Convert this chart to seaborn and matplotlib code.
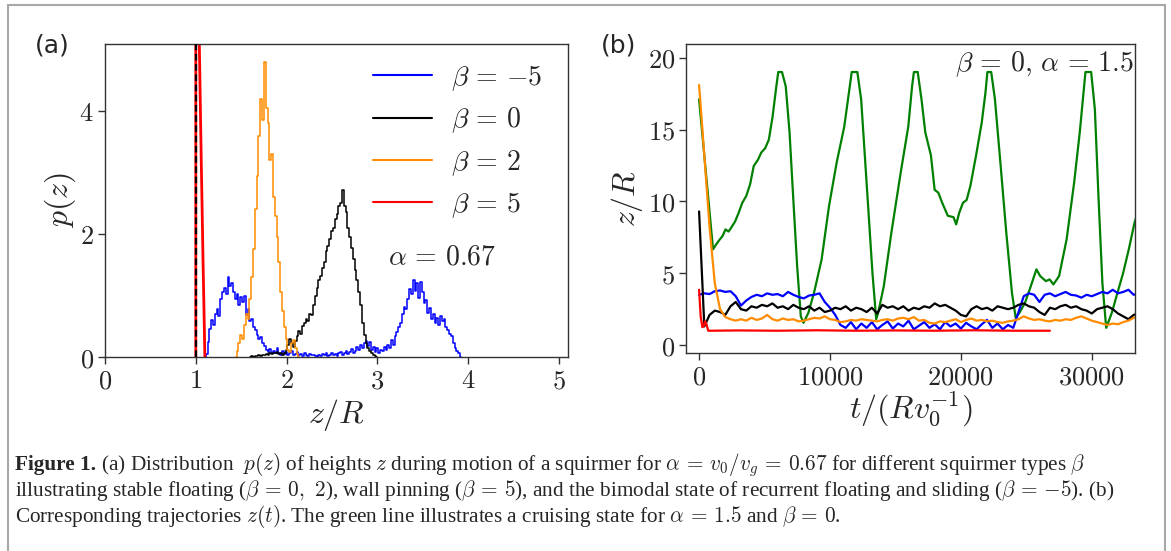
import numpy as np
import matplotlib
matplotlib.use("Agg")
import matplotlib.pyplot as plt
import seaborn as sns
from matplotlib.patches import Rectangle

# ---------------- panel (a): height distributions p(z), alpha = 0.67 ----------------
z_bin = 0.02

# beta = -5 : bimodal (sliding + floating)
blue_z0 = 1.10
blue_p = [0.00, 0.05, 0.25, 0.45, 0.60, 0.52, 0.70, 0.78, 0.66, 0.95,
          1.05, 1.12, 1.02, 1.30, 1.15, 1.20, 1.05, 0.95, 1.02, 0.85,
          0.98, 0.90, 1.00, 0.68, 0.78, 0.58, 0.62, 0.48, 0.44, 0.36,
          0.30, 0.33, 0.22, 0.18, 0.12, 0.08, 0.13, 0.06, 0.10, 0.07,
          0.15, 0.06, 0.04, 0.09, 0.05, 0.08, 0.03, 0.06, 0.10, 0.04,
          0.05, 0.08, 0.03, 0.05, 0.02, 0.06, 0.04, 0.01, 0.05, 0.03,
          0.04, 0.02, 0.00, 0.04, 0.02, 0.05, 0.03, 0.06, 0.02, 0.04,
          0.07, 0.03, 0.05, 0.02, 0.06, 0.08, 0.04, 0.07, 0.10, 0.05,
          0.08, 0.13, 0.07, 0.10, 0.16, 0.12, 0.20, 0.15, 0.22, 0.26,
          0.18, 0.24, 0.12, 0.17, 0.08, 0.14, 0.07, 0.12, 0.09, 0.16,
          0.11, 0.19, 0.14, 0.28, 0.20, 0.34, 0.40, 0.48, 0.56, 0.70,
          0.82, 0.78, 0.95, 1.10, 1.02, 1.26, 1.08, 1.20, 0.96, 1.22,
          1.05, 0.88, 0.92, 0.72, 0.80, 0.62, 0.70, 0.56, 0.64, 0.52,
          0.66, 0.58, 0.62, 0.48, 0.44, 0.38, 0.34, 0.22, 0.15, 0.10,
          0.06, 0.00]

# beta = 0 : stable floating
black_z0 = 1.60
black_p = [0.00, 0.01, 0.00, 0.02, 0.01, 0.03, 0.02, 0.04, 0.03, 0.05,
           0.04, 0.06, 0.05, 0.07, 0.06, 0.08, 0.05, 0.07, 0.04, 0.06,
           0.12, 0.20, 0.30, 0.22, 0.16, 0.26, 0.34, 0.42, 0.38, 0.50,
           0.55, 0.62, 0.58, 0.70, 0.68, 0.85, 1.00, 1.12, 1.25, 1.32,
           1.45, 1.55, 1.72, 1.80, 1.92, 2.05, 2.10, 2.25, 2.32, 2.45,
           2.50, 2.72, 2.45, 2.35, 2.10, 1.95, 1.78, 1.60, 1.42, 1.25,
           1.05, 0.85, 0.55, 0.35, 0.22, 0.15, 0.10, 0.06, 0.03, 0.01,
           0.00]

# beta = 2 : stable floating
orange_z0 = 1.44
orange_p = [0.00, 0.10, 0.22, 0.35, 0.30, 0.52, 0.70, 0.62, 0.95, 1.30,
            1.75, 2.40, 2.95, 3.60, 4.20, 3.85, 4.80, 4.05, 3.80, 3.20,
            3.30, 2.60, 2.30, 1.95, 1.55, 1.05, 0.75, 0.48, 0.30, 0.12,
            0.08, 0.22, 0.28, 0.15, 0.05, 0.00]

# beta = 5 : wall pinning
red_z = [1.00, 1.00, 1.01, 1.02, 1.03, 1.04, 1.05, 1.06, 1.07, 1.08, 1.09, 1.10]
red_p = [0.00, 60.0, 30.0, 12.0, 6.20, 5.00, 4.10, 3.20, 2.40, 1.55, 0.80, 0.00]

wall_z = 1.0
alpha_a_label = r"$\alpha \,=\, 0.67$"
legend_labels = [r"$\beta \,=\, {-}5$", r"$\beta \,=\, 0$", r"$\beta \,=\, 2$", r"$\beta \,=\, 5$"]
xticks_a = [0, 1, 2, 3, 4, 5]
yticks_a = [0, 2, 4]

# ---------------- panel (b): trajectories z(t) ----------------
t_grid = np.arange(0, 33601, 400)

black_traj = [9.3, 1.3, 2.1, 2.4, 2.3, 2.1, 2.7, 3.0, 2.5, 2.4,
              2.7, 2.6, 2.8, 2.7, 2.9, 2.6, 2.7, 2.5, 2.8, 2.6,
              2.5, 2.7, 2.4, 2.6, 2.3, 2.4, 2.6, 2.5, 2.7, 2.4,
              2.6, 2.5, 2.3, 2.6, 2.2, 2.8, 2.6, 2.7, 2.5, 2.7,
              2.4, 2.6, 2.5, 2.7, 2.6, 2.9, 2.7, 2.8, 2.6, 2.4,
              2.1, 2.0, 2.5, 2.7, 2.5, 2.6, 2.4, 2.7, 2.6, 2.5,
              2.6, 2.8, 2.9, 2.7, 2.6, 2.3, 2.1, 2.6, 2.5, 2.7,
              2.8, 2.6, 2.7, 2.5, 2.4, 2.2, 2.5, 2.6, 2.7, 2.5,
              2.2, 2.0, 1.8, 2.1, 2.2]

orange_traj = [18.1, 13.2, 8.2, 4.3, 2.5, 1.95, 1.8, 1.7, 1.8, 1.7,
               1.9, 1.75, 1.85, 2.1, 1.8, 1.7, 1.85, 1.75, 1.8, 1.65,
               1.7, 1.8, 1.9, 1.85, 2.0, 1.8, 1.75, 1.6, 1.65, 1.75,
               1.7, 1.8, 1.75, 1.7, 1.65, 1.75, 1.8, 1.7, 1.85, 1.9,
               1.8, 1.95, 1.7, 1.75, 1.55, 1.5, 1.65, 1.6, 1.7, 1.8,
               1.6, 1.75, 1.85, 1.7, 1.75, 1.65, 1.7, 1.6, 1.55, 1.65,
               1.7, 1.8, 2.0, 1.85, 1.75, 1.8, 1.7, 1.65, 1.75, 1.7,
               1.8, 1.75, 1.9, 2.0, 1.85, 1.7, 1.6, 1.5, 1.4, 1.5,
               1.45, 1.6, 1.7, 1.9, 1.95]

blue_traj = [3.5, 3.6, 3.55, 3.75, 3.8, 3.7, 3.75, 3.4, 2.75, 3.1,
             3.35, 3.5, 3.4, 3.6, 3.5, 3.55, 3.4, 3.7, 3.5, 3.35,
             3.25, 3.45, 3.5, 3.6, 3.0, 2.6, 2.1, 1.4, 1.2, 1.6,
             1.1, 1.5, 1.2, 1.6, 1.1, 1.4, 1.65, 1.15, 1.5, 1.3,
             1.7, 1.1, 1.35, 1.6, 1.2, 1.45, 1.1, 1.6, 1.3, 1.5,
             1.15, 1.55, 1.3, 1.1, 1.45, 1.75, 1.2, 1.5, 1.1, 1.4,
             1.2, 2.3, 3.4, 3.6, 3.5, 3.0, 3.5, 3.6, 3.4, 3.55,
             3.7, 3.5, 3.45, 3.3, 3.5, 3.4, 3.55, 3.7, 3.6, 3.85,
             3.6, 3.7, 3.85, 3.5, 3.6]

red_t = [0, 120, 250, 350, 450, 550, 700, 900, 3000, 6000, 9000, 12000,
         15000, 18000, 21000, 24000, 26800]
red_traj = [3.85, 2.0, 1.25, 1.3, 1.65, 1.5, 1.0, 1.0, 1.02, 1.0, 1.03, 1.0,
            1.02, 1.0, 1.03, 1.0, 1.0]

# cruising state, beta = 0, alpha = 1.5
green_t = [0, 1065, 1300, 1580, 1800, 2015, 2250, 2450, 2750, 3020, 3300, 3600,
           3900, 4175, 4500, 4750, 5050, 5330, 5615, 5900, 6050, 6335, 6620,
           6910, 7200, 7490, 7770, 7975, 8350, 8780, 9360, 9930, 10510, 11090,
           11375, 11660, 12090, 12380, 12810, 13245, 13530, 13680, 14110, 14685,
           15400, 15980, 16270, 16410, 16700, 16990, 17280, 17710, 17995, 18280,
           18570, 19000, 19435, 19640, 19870, 20155, 20440, 20730, 21160, 21595,
           21880, 22025, 22315, 22600, 23035, 23470, 23900, 24185, 24475, 24900,
           25340, 25770, 26060, 26490, 26780, 27065, 27500, 28075, 28650, 29080,
           29515, 29950, 30235, 30520, 30810, 31100, 31530, 31960, 32390, 32825,
           33260, 33500]
green_traj = [17.1, 6.66, 7.0, 7.35, 7.6, 8.05, 7.9, 8.17, 8.6, 9.2, 9.9, 10.37,
              11.2, 12.46, 12.9, 13.4, 13.7, 14.3, 15.9, 18.0, 19.0, 19.0, 18.0,
              14.8, 10.1, 5.5, 2.0, 1.55, 2.25, 3.64, 5.96, 9.7, 12.7, 15.2,
              17.1, 19.0, 19.0, 17.1, 11.1, 5.0, 1.8, 2.25, 4.1, 7.8,
              12.0, 15.2, 18.0, 19.0, 19.0, 17.1, 14.8, 13.2, 10.8, 10.6,
              9.9, 9.0, 8.9, 8.4, 9.2, 9.9, 10.1, 11.1, 13.2, 15.5,
              17.6, 19.0, 19.0, 17.1, 12.5, 7.8, 3.64, 1.9, 2.25, 2.95,
              4.1, 5.27, 4.8, 4.45, 4.57, 4.22, 4.8, 7.35, 11.3, 14.8,
              19.0, 19.0, 16.4, 10.1, 4.3, 1.2, 2.25, 3.64, 5.0, 6.66,
              8.5, 9.2]

label_b = r"$\beta\,=\,0,\,\alpha\,=\,1.5$"
xticks_b = [0, 10000, 20000, 30000]
yticks_b = [0, 5, 10, 15, 20]

c_blue, c_black, c_orange, c_red, c_green = "#0000ff", "#000000", "#ff8c00", "#ff0000", "#008000"

# ---------------- style ----------------
sns.set_style("ticks")
plt.rcParams["mathtext.fontset"] = "cm"
plt.rcParams["font.family"] = ["DejaVu Sans"]
plt.rcParams["axes.unicode_minus"] = True

W, H = 1171, 551
fig = plt.figure(figsize=(W / 100, H / 100), dpi=100)
fig.patch.set_facecolor("white")


def px_axes(left, top, right, bottom):
    return fig.add_axes([left / W, 1 - bottom / H, (right - left) / W, (bottom - top) / H])


def style_axes(ax):
    for s in ax.spines.values():
        s.set_color("#333333")
        s.set_linewidth(1.0)
    ax.tick_params(direction="out", length=5, width=1.0, color="#333333",
                   labelsize=19, pad=3)


tick_fmt = lambda v: f"${v}$"

# ---------------- panel (a) ----------------
ax1 = px_axes(105, 44, 568, 357)
style_axes(ax1)

hist_series = [
    (blue_z0 + z_bin * np.arange(len(blue_p)), blue_p, c_blue, legend_labels[0]),
    (black_z0 + z_bin * np.arange(len(black_p)), black_p, c_black, legend_labels[1]),
    (orange_z0 + z_bin * np.arange(len(orange_p)), orange_p, c_orange, legend_labels[2]),
]
for zz, pp, col, lab in hist_series:
    sns.lineplot(x=zz, y=pp, ax=ax1, color=col, lw=1.1, drawstyle="steps-mid",
                 estimator=None, sort=False, label=lab)
sns.lineplot(x=red_z, y=red_p, ax=ax1, color=c_red, lw=2.0,
             estimator=None, sort=False, label=legend_labels[3])

# wall position
ax1.axvline(wall_z, color="black", ls=(0, (3, 1.6)), lw=1.6, zorder=5)

ax1.set_xlim(0, 5.1)
ax1.set_ylim(0, 5.09)
ax1.set_xticks(xticks_a)
ax1.set_xticklabels([tick_fmt(v) for v in xticks_a])
ax1.set_yticks(yticks_a)
ax1.set_yticklabels([tick_fmt(v) for v in yticks_a])
ax1.set_xlabel(r"$z/R$", fontsize=23, labelpad=2)
ax1.set_ylabel(r"$p(z)$", fontsize=23, labelpad=1)

leg = ax1.legend(loc="upper left", bbox_to_anchor=((373 - 105) / 463, (357 - 63) / 313),
                 frameon=False, fontsize=20, handlelength=2.12, handletextpad=0.7,
                 labelspacing=0.45, borderpad=0, borderaxespad=0)
for ln in leg.get_lines():
    ln.set_linewidth(1.5)

ax1.text(3.12, 1.63, alpha_a_label, fontsize=20, ha="left", va="center")

# ---------------- panel (b) ----------------
ax2 = px_axes(686, 44, 1135, 353)
style_axes(ax2)

sns.lineplot(x=green_t, y=green_traj, ax=ax2, color=c_green, lw=1.6,
             estimator=None, sort=False)
for traj, col in [(blue_traj, c_blue), (black_traj, c_black), (orange_traj, c_orange)]:
    sns.lineplot(x=t_grid, y=traj, ax=ax2, color=col, lw=1.6,
                 estimator=None, sort=False)
sns.lineplot(x=red_t, y=red_traj, ax=ax2, color=c_red, lw=1.6,
             estimator=None, sort=False)

ax2.set_xlim(-1000, 33300)
ax2.set_ylim(-0.55, 20.95)
ax2.set_xticks(xticks_b)
ax2.set_xticklabels([tick_fmt(v) for v in xticks_b])
ax2.set_yticks(yticks_b)
ax2.set_yticklabels([tick_fmt(v) for v in yticks_b])
ax2.set_xlabel(r"$t/(Rv_0^{-1})$", fontsize=23, labelpad=0)
ax2.set_ylabel(r"$z/R$", fontsize=23, labelpad=2)
ax2.text(0.997, 0.935, label_b, transform=ax2.transAxes, fontsize=20,
         ha="right", va="center")

# panel tags
fig.text(35 / W, 1 - 45 / H, "(a)", fontsize=18, ha="left", va="center")
fig.text(601 / W, 1 - 45 / H, "(b)", fontsize=18, ha="left", va="center")

# ---------------- caption ----------------
cap_font = "Liberation Serif"
cap_size = 15.3
cap_x = 15 / W
base_y = [470, 496, 522]
t1 = fig.text(cap_x, 1 - base_y[0] / H, "Figure 1.", family=cap_font, weight="bold",
              fontsize=cap_size, va="baseline", ha="left")
fig.canvas.draw()
bb = t1.get_window_extent(renderer=fig.canvas.get_renderer())
fig.text(bb.x1 / W, 1 - base_y[0] / H,
         r" (a) Distribution  $p(z)$ of heights $z$ during motion of a squirmer for "
         r"$\alpha\, =\, v_0/v_g\, =\, 0.67$ for different squirmer types $\beta$",
         family=cap_font, fontsize=cap_size, va="baseline", ha="left")
fig.text(cap_x, 1 - base_y[1] / H,
         r"illustrating stable floating ($\beta\, =\, 0,\ 2$), wall pinning ($\beta\, =\, 5$), "
         r"and the bimodal state of recurrent floating and sliding ($\beta\, =\, {-}5$). (b)",
         family=cap_font, fontsize=cap_size, va="baseline", ha="left")
fig.text(cap_x, 1 - base_y[2] / H,
         r"Corresponding trajectories $z(t)$. The green line illustrates a cruising state for "
         r"$\alpha\, =\, 1.5$ and $\beta\, =\, 0$.",
         family=cap_font, fontsize=cap_size, va="baseline", ha="left")

# outer frame
fig.patches.append(Rectangle((8 / W, -0.05), (1165 - 8) / W, 1.05 - 5 / H,
                             transform=fig.transFigure, fill=False,
                             edgecolor="#a8a8a8", lw=1.5, clip_on=False))

fig.savefig("out.png", dpi=100, facecolor="white")
